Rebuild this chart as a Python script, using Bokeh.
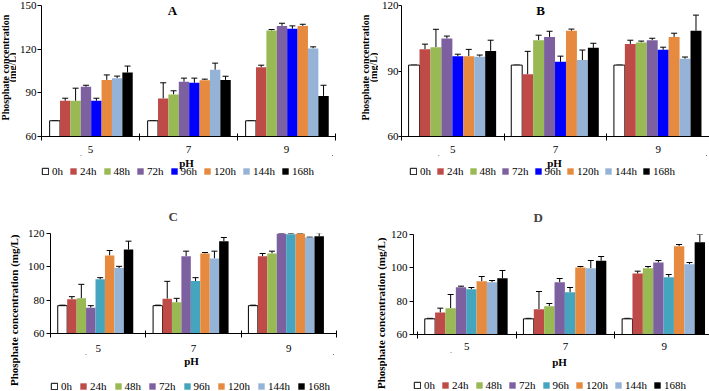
import math
from bokeh.plotting import figure
from bokeh.layouts import column, row
from bokeh.models import (ColumnDataSource, Whisker, TeeHead, FixedTicker,
                          Legend, LegendItem, Label, Range1d)
from bokeh.embed import file_html
from bokeh.resources import INLINE

PH_LABELS = ["5", "7", "9"]
TIMES = ["0h", "24h", "48h", "72h", "96h", "120h", "144h", "168h"]

# mean phosphate concentration (mg/L); rows = pH 5, 7, 9 ; columns = TIMES
A_MEAN = [
    [70.8, 84.5, 84.5, 94.1, 84.5, 98.9, 100.1, 104.0],
    [70.8, 86.1, 88.9, 97.6, 96.9, 98.7, 105.8, 98.9],
    [70.8, 107.6, 132.8, 136.0, 134.0, 136.0, 120.5, 87.9],
]
A_ERR = [
    [0, 1.8, 8.7, 1.1, 1.8, 3.4, 1.4, 4.4],
    [0, 10.8, 2.5, 2.5, 3.2, 0.7, 4.6, 2.5],
    [0, 1.4, 0.7, 1.8, 2.0, 1.1, 1.1, 7.3],
]
B_MEAN = [
    [92.7, 100.0, 100.9, 104.9, 96.8, 96.8, 96.5, 99.2],
    [92.7, 88.5, 104.1, 105.6, 94.2, 108.4, 95.0, 100.6],
    [92.7, 102.4, 103.1, 104.1, 99.7, 105.6, 95.6, 108.4],
]
B_ERR = [
    [0, 2.3, 8.2, 1.1, 0.9, 3.1, 0.8, 4.9],
    [0, 10.5, 2.3, 2.6, 2.6, 0.8, 4.6, 2.1],
    [0, 1.7, 0.6, 0.9, 1.2, 1.7, 0.8, 7.2],
]
C_MEAN = [
    [76.7, 80.5, 81.1, 75.5, 92.5, 106.8, 99.3, 110.4],
    [76.7, 80.9, 78.7, 106.4, 91.5, 108.0, 105.0, 115.4],
    [76.7, 106.4, 108.0, 120.0, 119.6, 120.0, 117.6, 118.4],
]
C_ERR = [
    [0.3, 1.6, 8.4, 1.2, 1.0, 3.0, 1.0, 5.0],
    [0.3, 10.4, 2.4, 3.0, 2.0, 0.6, 4.4, 2.2],
    [0.3, 1.6, 1.4, 0.0, 0.4, 0.0, 0.2, 2.0],
]
D_MEAN = [
    [69.4, 73.2, 75.8, 88.4, 87.2, 92.0, 91.4, 93.8],
    [69.4, 75.2, 77.0, 91.4, 85.4, 100.2, 99.8, 104.2],
    [69.4, 96.6, 99.8, 103.2, 94.4, 113.0, 102.2, 115.4],
]
D_ERR = [
    [0.3, 2.6, 8.2, 0.6, 1.0, 2.8, 1.0, 4.6],
    [0.3, 10.6, 1.6, 2.2, 2.8, 0.6, 4.6, 2.6],
    [0.3, 1.4, 1.0, 1.2, 1.6, 1.0, 1.0, 4.6],
]

Y_LABEL_TWO = ["Phosphate concentration", "(mg/L)"]
Y_LABEL_ONE = "Phosphate  concentration  (mg/L)"
X_LABEL = "pH"

COLORS_AB = ["#FFFFFF", "#BE4B48", "#98B954", "#7D60A0", "#0000FF", "#E68A3F", "#95B3D7", "#000000"]
COLORS_CD = ["#FFFFFF", "#BE4B48", "#98B954", "#7D60A0", "#46A5BE", "#E68A3F", "#95B3D7", "#000000"]

SERIF = "Liberation Serif"
HALF_PI = math.pi / 2


def blank(width, height):
    p = figure(width=width, height=height, output_backend="svg", toolbar_location=None,
               x_axis_location=None, y_axis_location=None, min_border=0,
               x_range=Range1d(0, 1), y_range=Range1d(0, 1))
    p.outline_line_color = None
    p.grid.visible = False
    p.background_fill_color = "white"
    p.border_fill_color = "white"
    return p


def text(p, txt, x, y, size="11px", angle=0.0):
    p.add_layout(Label(x=x, y=y, x_units="screen", y_units="screen", text=txt,
                       angle=angle, text_align="center", text_baseline="middle",
                       text_font=SERIF, text_font_style="bold",
                       text_font_size=size, text_color="black"))


def make_panel(mean, err, colors, y_end, y_ticks, frame_w, frame_h, borders,
               x_start, bar_start, bar_w, tick_standoff, ylab_standoff, ytick_out):
    left, right, top, bottom = borders
    p = figure(frame_width=frame_w, frame_height=frame_h,
               output_backend="svg", toolbar_location=None,
               x_range=Range1d(x_start, 3), y_range=Range1d(60, y_end),
               min_border_left=left, min_border_right=right,
               min_border_top=top, min_border_bottom=bottom)
    p.outline_line_color = None
    p.xgrid.grid_line_color = None
    p.ygrid.grid_line_color = None
    p.background_fill_color = "white"
    p.border_fill_color = "white"

    sources = []
    for k, t in enumerate(TIMES):
        xs = [g + bar_start + (k + 0.5) * bar_w for g in range(len(PH_LABELS))]
        tops = [mean[g][k] for g in range(len(PH_LABELS))]
        uppers = [mean[g][k] + err[g][k] for g in range(len(PH_LABELS))]
        src = ColumnDataSource(dict(x=xs, top=tops, upper=uppers))
        sources.append(src)
        p.vbar(x="x", top="top", bottom=60, width=bar_w, source=src,
               fill_color=colors[k],
               line_color="#000000" if k == 0 else None, line_width=1)
        p.add_layout(Whisker(base="x", upper="upper", lower="top", source=src,
                             dimension="height", line_color="black", line_width=1,
                             upper_head=TeeHead(size=6, line_color="black", line_width=1),
                             lower_head=None))

    xa = p.xaxis[0]
    xa.ticker = FixedTicker(ticks=[0.5, 1.5, 2.5], minor_ticks=[0, 1, 2, 3])
    xa.major_label_overrides = {0.5: PH_LABELS[0], 1.5: PH_LABELS[1], 2.5: PH_LABELS[2]}
    xa.major_tick_line_color = None
    xa.major_tick_in = 0
    xa.major_tick_out = 0
    xa.minor_tick_in = 3
    xa.minor_tick_out = 4
    xa.minor_tick_line_color = "black"
    xa.axis_line_color = "black"
    xa.major_label_standoff = tick_standoff
    xa.major_label_text_font = SERIF
    xa.major_label_text_font_size = "11px"
    xa.major_label_text_color = "black"

    ya = p.yaxis[0]
    ya.ticker = FixedTicker(ticks=y_ticks, minor_ticks=[])
    ya.major_tick_in = 0
    ya.major_tick_out = ytick_out
    ya.major_tick_line_color = "black"
    ya.axis_line_color = "black"
    ya.major_label_text_font = SERIF
    ya.major_label_text_font_size = "11px"
    ya.major_label_text_color = "black"
    ya.major_label_standoff = ylab_standoff
    return p, sources


def legend_fig(panel, colors, width, height, ph_xy, leg_xy, spacing):
    _, sources = panel
    p = blank(width, height)
    items = []
    for k, t in enumerate(TIMES):
        # zero-size bars on the panel's data: only their legend swatches show
        r = p.vbar(x="x", top="top", bottom="top", width=0, source=sources[k],
                   fill_color=colors[k],
                   line_color="#000000" if k == 0 else None, line_width=1)
        items.append(LegendItem(label=t, renderers=[r]))
    leg = Legend(items=items, orientation="horizontal", location=leg_xy,
                 glyph_width=8, glyph_height=8, label_standoff=3, label_width=8,
                 spacing=spacing, padding=0, margin=0,
                 border_line_color=None, background_fill_alpha=0,
                 label_text_font=SERIF, label_text_font_size="11px",
                 label_text_color="black", label_height=12)
    p.add_layout(leg)
    text(p, X_LABEL, ph_xy[0], ph_xy[1])
    return p


# ---------------- A ----------------
A = make_panel(A_MEAN, A_ERR, COLORS_AB, 150, [60, 90, 120, 150], 294, 131,
               (22, 22, 5, 18), 0, 0.083, 0.106, 5, 1, 4)
pA = A[0]
text(pA, "A", 131, 126, size="13px")
lA = legend_fig(A, COLORS_AB, 338, 41, (145, 34), (0, 19), 6)
yA = blank(16, 195)
text(yA, Y_LABEL_TWO[0], 4.5, 128, size="10px", angle=HALF_PI)
text(yA, Y_LABEL_TWO[1], 12, 128, size="10px", angle=HALF_PI)

# ---------------- B ----------------
B = make_panel(B_MEAN, B_ERR, COLORS_AB, 120, [60, 90, 120], 308, 131,
               (20, 5, 5, 18), 0, 0.069, 0.1066, 5, 0, 3)
pB = B[0]
text(pB, "B", 139, 126, size="13px")
lB = legend_fig(B, COLORS_AB, 333, 41, (153, 34), (8, 19), 5)
yB = blank(21, 195)
text(yB, Y_LABEL_TWO[0], 8, 128, size="10px", angle=HALF_PI)
text(yB, Y_LABEL_TWO[1], 16, 128, size="10px", angle=HALF_PI)

# ---------------- C ----------------
C = make_panel(C_MEAN, C_ERR, COLORS_CD, 120, [60, 80, 100, 120], 286, 100,
               (23, 21, 35, 20), 0, 0.076, 0.099, 7, 2, 4)
pC = C[0]
pC.title.text = "C"
pC.title.align = "left"
pC.title.offset = 118
pC.title.standoff = 20
pC.title.text_font = SERIF
pC.title.text_font_style = "bold"
pC.title.text_font_size = "13px"
lC = legend_fig(C, COLORS_CD, 330, 39, (141, 33), (0, 1), 7)
yC = blank(24, 194)
text(yC, Y_LABEL_ONE, 13, 83, angle=HALF_PI)

# ---------------- D ----------------
D = make_panel(D_MEAN, D_ERR, COLORS_CD, 120, [60, 80, 100, 120], 300, 100,
               (23, 1, 38, 17), -0.04, 0.074, 0.105, 4, 2, 4)
pD = D[0]
pD.title.text = "D"
pD.title.align = "left"
pD.title.offset = 120
pD.title.standoff = 20
pD.title.text_font = SERIF
pD.title.text_font_style = "bold"
pD.title.text_font_size = "13px"
lD = legend_fig(D, COLORS_CD, 324, 39, (146, 30), (0, 0), 6)
yD = blank(30, 194)
text(yD, Y_LABEL_ONE, 23, 80, angle=HALF_PI)

quadA = row(yA, column(pA, lA))
quadB = row(yB, column(pB, lB))
quadC = row(yC, column(pC, lC))
quadD = row(yD, column(pD, lD))
layout = column(row(quadA, quadB), row(quadC, quadD))
open("out.html", "w").write(file_html(layout, INLINE))
